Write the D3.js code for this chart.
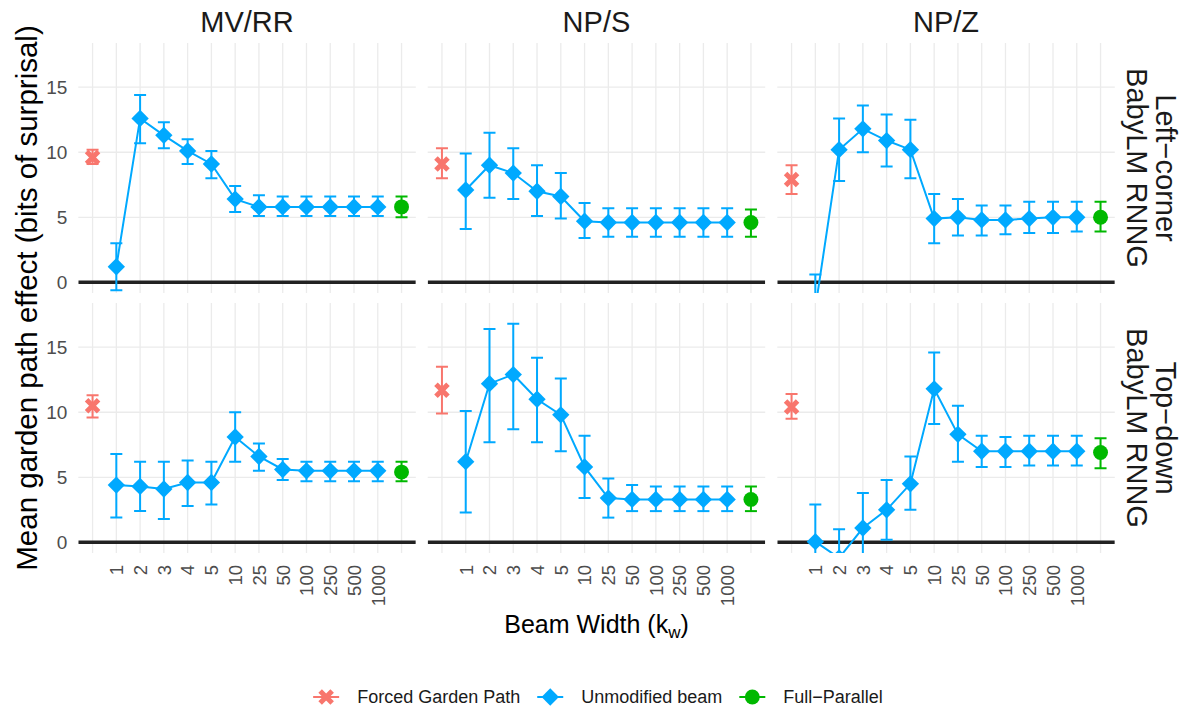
<!DOCTYPE html>
<html><head><meta charset="utf-8">
<script src="https://cdn.jsdelivr.net/npm/d3@7"></script>
<style>
body{margin:0;background:#fff;}
svg{display:block;font-family:"Liberation Sans",Arial,Helvetica,sans-serif;}
</style></head><body>
<svg id="chart" width="1188" height="708"></svg>
<script>
// ---------------- DATA ----------------
const constructions = ["MV/RR", "NP/S", "NP/Z"];
const parsers = ["Left−corner", "Top−down"];
const parserModel = "BabyLM RNNG";
const beamWidths = ["1","2","3","4","5","10","25","50","100","250","500","1000"];
const xCategories = ["FGP"].concat(beamWidths, ["FP"]);
const yTickValues = [0, 5, 10, 15];
const seriesNames = ["Forced Garden Path", "Unmodified beam", "Full−Parallel"];

// Left-corner parser
const lcMVRR_mean = [1.2, 12.6, 11.3, 10.1, 9.1, 6.4, 5.8, 5.8, 5.8, 5.8, 5.8, 5.8];
const lcMVRR_lo   = [-0.6, 10.7, 10.3, 9.1, 8.0, 5.4, 5.1, 5.1, 5.1, 5.1, 5.1, 5.1];
const lcMVRR_hi   = [3.0, 14.4, 12.3, 11.0, 10.1, 7.4, 6.7, 6.6, 6.6, 6.6, 6.6, 6.6];
const lcMVRR_fgp  = [9.6, 9.1, 10.2];
const lcMVRR_fp   = [5.8, 5.0, 6.6];

const lcNPS_mean = [7.1, 9.0, 8.4, 7.0, 6.6, 4.7, 4.6, 4.6, 4.6, 4.6, 4.6, 4.6];
const lcNPS_lo   = [4.1, 6.5, 6.4, 5.1, 4.9, 3.4, 3.5, 3.5, 3.5, 3.5, 3.5, 3.5];
const lcNPS_hi   = [9.9, 11.5, 10.3, 9.0, 8.4, 6.1, 5.7, 5.7, 5.7, 5.7, 5.7, 5.7];
const lcNPS_fgp  = [9.1, 8.0, 10.3];
const lcNPS_fp   = [4.6, 3.5, 5.6];

const lcNPZ_mean = [-2.0, 10.2, 11.8, 10.9, 10.2, 4.9, 5.0, 4.8, 4.8, 4.9, 5.0, 5.0];
const lcNPZ_lo   = [-4.6, 7.8, 10.0, 8.9, 8.0, 3.0, 3.6, 3.6, 3.7, 3.8, 3.8, 3.9];
const lcNPZ_hi   = [0.6, 12.6, 13.6, 12.9, 12.5, 6.8, 6.4, 5.9, 5.9, 6.2, 6.2, 6.2];
const lcNPZ_fgp  = [7.9, 6.8, 9.0];
const lcNPZ_fp   = [5.0, 3.9, 6.2];

// Top-down parser
const tdMVRR_mean = [4.4, 4.3, 4.1, 4.6, 4.6, 8.1, 6.6, 5.6, 5.5, 5.5, 5.5, 5.5];
const tdMVRR_lo   = [1.9, 2.4, 1.8, 2.8, 2.9, 6.2, 5.5, 4.8, 4.7, 4.7, 4.7, 4.7];
const tdMVRR_hi   = [6.8, 6.2, 6.2, 6.3, 6.2, 10.0, 7.6, 6.4, 6.2, 6.2, 6.2, 6.2];
const tdMVRR_fgp  = [10.5, 9.6, 11.3];
const tdMVRR_fp   = [5.4, 4.7, 6.2];

const tdNPS_mean = [6.2, 12.2, 12.9, 11.0, 9.8, 5.8, 3.4, 3.3, 3.3, 3.3, 3.3, 3.3];
const tdNPS_lo   = [2.3, 7.7, 8.7, 7.7, 7.0, 3.4, 1.9, 2.4, 2.4, 2.4, 2.4, 2.4];
const tdNPS_hi   = [10.1, 16.4, 16.8, 14.2, 12.6, 8.2, 4.9, 4.4, 4.3, 4.3, 4.3, 4.3];
const tdNPS_fgp  = [11.7, 9.9, 13.5];
const tdNPS_fp   = [3.3, 2.4, 4.3];

const tdNPZ_mean = [0.05, -1.2, 1.1, 2.5, 4.5, 11.8, 8.3, 7.0, 7.0, 7.0, 7.0, 7.0];
const tdNPZ_lo   = [-2.8, -3.4, -1.5, 0.2, 2.5, 9.1, 6.2, 5.8, 5.8, 5.9, 5.9, 5.9];
const tdNPZ_hi   = [2.9, 1.0, 3.8, 4.8, 6.6, 14.6, 10.5, 8.2, 8.1, 8.2, 8.2, 8.2];
const tdNPZ_fgp  = [10.4, 9.5, 11.4];
const tdNPZ_fp   = [6.9, 5.7, 8.0];

const panelData = [
  [ {mean: lcMVRR_mean, lo: lcMVRR_lo, hi: lcMVRR_hi, fgp: lcMVRR_fgp, fp: lcMVRR_fp},
    {mean: lcNPS_mean,  lo: lcNPS_lo,  hi: lcNPS_hi,  fgp: lcNPS_fgp,  fp: lcNPS_fp},
    {mean: lcNPZ_mean,  lo: lcNPZ_lo,  hi: lcNPZ_hi,  fgp: lcNPZ_fgp,  fp: lcNPZ_fp} ],
  [ {mean: tdMVRR_mean, lo: tdMVRR_lo, hi: tdMVRR_hi, fgp: tdMVRR_fgp, fp: tdMVRR_fp},
    {mean: tdNPS_mean,  lo: tdNPS_lo,  hi: tdNPS_hi,  fgp: tdNPS_fgp,  fp: tdNPS_fp},
    {mean: tdNPZ_mean,  lo: tdNPZ_lo,  hi: tdNPZ_hi,  fgp: tdNPZ_fgp,  fp: tdNPZ_fp} ]
];

// ---------------- STYLE / LAYOUT ----------------
const colors = {fgp: "#F8766D", beam: "#00A9FF", fp: "#00B800"};
const colLefts = [78.3, 427.7, 777.3];
const panelW = 337.5;
const rowTops = [43, 303];
const panelH = 250;
const yDomain = [-0.82, 18.4];
const gridColor = "#EBEBEB";
const tickColor = "#4D4D4D";

const svg = d3.select("#chart");
svg.append("rect").attr("width", 1188).attr("height", 708).attr("fill", "#fff");
const defs = svg.append("defs");

const xPathX = a => `M${-a},${-a}L${a},${a}M${-a},${a}L${a},${-a}`;
const diamond = d3.symbol(d3.symbolSquare, 150)();
const circle = d3.symbol(d3.symbolCircle, 175)();

function drawErr(g, x, lo, hi, color) {
  const capW = 6;
  g.append("line").attr("x1", x).attr("x2", x).attr("y1", lo).attr("y2", hi)
    .attr("stroke", color).attr("stroke-width", 2);
  [lo, hi].forEach(yy => g.append("line").attr("x1", x - capW).attr("x2", x + capW)
    .attr("y1", yy).attr("y2", yy).attr("stroke", color).attr("stroke-width", 2));
}

parsers.forEach((pname, r) => {
  constructions.forEach((cname, c) => {
    const x0 = colLefts[c], y0 = rowTops[r];
    const x = d3.scalePoint().domain(xCategories).range([x0, x0 + panelW]).padding(0.6);
    const y = d3.scaleLinear().domain(yDomain).range([y0 + panelH, y0]);
    const d = panelData[r][c];

    const clipId = `clip-${r}-${c}`;
    defs.append("clipPath").attr("id", clipId).append("rect")
      .attr("x", x0).attr("y", y0).attr("width", panelW).attr("height", panelH);

    const g = svg.append("g");
    // grid
    xCategories.forEach(k => g.append("line").attr("x1", x(k)).attr("x2", x(k))
      .attr("y1", y0).attr("y2", y0 + panelH).attr("stroke", gridColor).attr("stroke-width", 1.3));
    yTickValues.forEach(v => g.append("line").attr("x1", x0).attr("x2", x0 + panelW)
      .attr("y1", y(v)).attr("y2", y(v)).attr("stroke", gridColor).attr("stroke-width", 1.3));

    const pg = g.append("g").attr("clip-path", `url(#${clipId})`);
    // zero line
    pg.append("line").attr("x1", x0).attr("x2", x0 + panelW).attr("y1", y(0)).attr("y2", y(0))
      .attr("stroke", "#222").attr("stroke-width", 3.5);

    // error bars
    drawErr(pg, x("FGP"), y(d.fgp[1]), y(d.fgp[2]), colors.fgp);
    beamWidths.forEach((k, i) => drawErr(pg, x(k), y(d.lo[i]), y(d.hi[i]), colors.beam));
    drawErr(pg, x("FP"), y(d.fp[1]), y(d.fp[2]), colors.fp);

    // line
    pg.append("path").datum(beamWidths.map((k, i) => [x(k), y(d.mean[i])]))
      .attr("d", d3.line()).attr("fill", "none").attr("stroke", colors.beam).attr("stroke-width", 2);

    // points
    pg.append("path").attr("d", xPathX(6)).attr("transform", `translate(${x("FGP")},${y(d.fgp[0])})`)
      .attr("stroke", colors.fgp).attr("stroke-width", 5).attr("fill", "none");
    beamWidths.forEach((k, i) => pg.append("path").attr("d", diamond)
      .attr("transform", `translate(${x(k)},${y(d.mean[i])}) rotate(45)`).attr("fill", colors.beam));
    pg.append("path").attr("d", circle).attr("transform", `translate(${x("FP")},${y(d.fp[0])})`)
      .attr("fill", colors.fp);

    // y tick labels (left column)
    if (c === 0) {
      const ya = d3.axisLeft(y).tickValues(yTickValues).tickSize(0).tickPadding(11);
      const ag = svg.append("g").attr("transform", `translate(${x0},0)`).call(ya);
      ag.select(".domain").remove();
      ag.selectAll("text").attr("fill", tickColor).attr("font-size", 19)
        .attr("font-family", '"Liberation Sans",Arial,sans-serif');
    }
    // x tick labels (bottom row)
    if (r === 1) {
      beamWidths.forEach(k => svg.append("text")
        .attr("transform", `translate(${x(k) + 6.8},${y0 + panelH + 12}) rotate(-90)`)
        .attr("text-anchor", "end").attr("font-size", 18.5).attr("fill", tickColor).text(k));
    }
    // column strip
    if (r === 0) {
      svg.append("text").attr("x", x0 + panelW / 2).attr("y", 32).attr("text-anchor", "middle")
        .attr("font-size", 29).attr("fill", "#1A1A1A").text(cname);
    }
  });
  // row strip
  const cy = rowTops[r] + panelH / 2;
  svg.append("text").attr("transform", `translate(1156,${cy}) rotate(90)`).attr("text-anchor", "middle")
    .attr("font-size", 29).attr("fill", "#1A1A1A").text(pname);
  svg.append("text").attr("transform", `translate(1127,${cy}) rotate(90)`).attr("text-anchor", "middle")
    .attr("font-size", 29).attr("fill", "#1A1A1A").text(parserModel);
});

// axis titles
svg.append("text").attr("transform", `translate(36.5,${(rowTops[0] + rowTops[1] + panelH) / 2}) rotate(-90)`)
  .attr("text-anchor", "middle").attr("font-size", 29.5).attr("fill", "#000")
  .text("Mean garden path effect (bits of surprisal)");
const xt = svg.append("text").attr("x", (colLefts[0] + colLefts[2] + panelW) / 2).attr("y", 633)
  .attr("text-anchor", "middle").attr("font-size", 25).attr("fill", "#000");
xt.append("tspan").text("Beam Width (k");
xt.append("tspan").attr("font-size", 17).attr("dy", 5).text("w");
xt.append("tspan").attr("dy", -5).text(")");

// legend
const lg = svg.append("g");
const keyY = 697;
let cursor = 0;
seriesNames.forEach((name, i) => {
  const it = lg.append("g");
  const keyColor = [colors.fgp, colors.beam, colors.fp][i];
  it.append("line").attr("x1", -13).attr("x2", 13).attr("y1", 0).attr("y2", 0)
    .attr("stroke", keyColor).attr("stroke-width", 2);
  if (i === 0) it.append("path").attr("d", xPathX(6)).attr("stroke", keyColor).attr("stroke-width", 5).attr("fill", "none");
  if (i === 1) it.append("path").attr("d", diamond).attr("transform", "rotate(45)").attr("fill", keyColor);
  if (i === 2) it.append("path").attr("d", circle).attr("fill", keyColor);
  const t = it.append("text").attr("x", 31).attr("dy", "0.35em").attr("font-size", 18).attr("fill", "#1A1A1A").text(name);
  const tw = t.node().getComputedTextLength();
  it.attr("transform", `translate(${cursor + 13},${keyY})`);
  cursor += 31 + tw + 30;
});
const legendLeft = 598 - (cursor - 30 + 13) / 2;
lg.attr("transform", `translate(${legendLeft},0)`);
</script>
</body></html>
